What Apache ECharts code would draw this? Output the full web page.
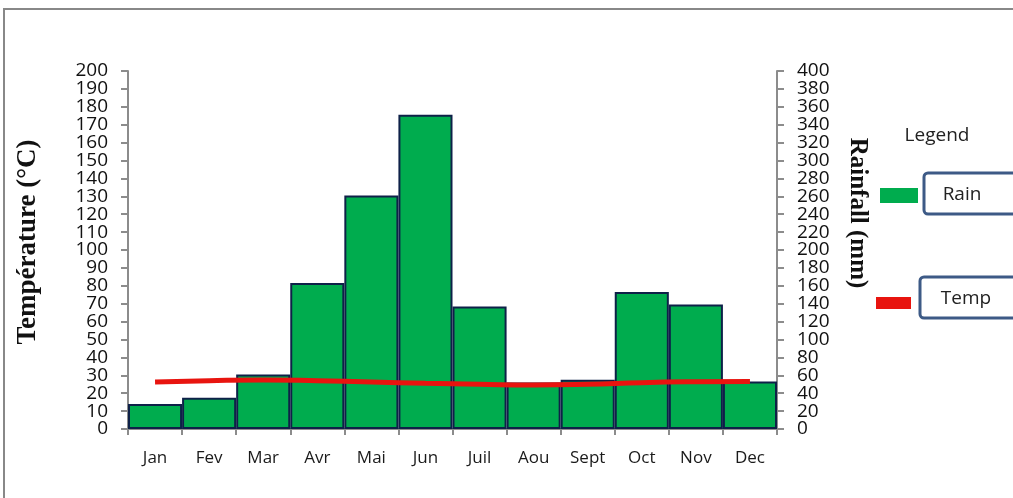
<!DOCTYPE html>
<html>
<head>
<meta charset="utf-8">
<script src="https://cdn.jsdelivr.net/npm/echarts@6/dist/echarts.min.js"></script>
<style>
  html, body { margin: 0; padding: 0; background: #fff; }
  #chart { width: 1013px; height: 498px; }
</style>
</head>
<body>
<div id="chart"></div>
<script>
// months
var months = ['Jan', 'Fev', 'Mar', 'Avr', 'Mai', 'Jun', 'Juil', 'Aou', 'Sept', 'Oct', 'Nov', 'Dec'];
// rainfall (mm), right axis
var rain = [28, 35, 61, 163, 261, 351, 137, 52, 55, 153, 139, 53];
// temperature (°C), left axis
var temp = [26.3, 27, 27.4, 27, 26.3, 25.5, 25, 24.6, 25, 25.9, 26.4, 26.6];

// tick labels, bottom to top
var tempLabels = ['0', '10', '20', '30', '40', '50', '60', '70', '80', '90', '100',
                  '110', '120', '130', '140', '150', '160', '170', '180', '190', '200'];
var rainLabels = ['0', '20', '40', '60', '80', '100', '120', '140', '160', '180', '200',
                  '220', '240', '260', '280', '300', '320', '340', '360', '380', '400'];

var tempTicks = { min: 0, max: 200, interval: 10 };
var rainTicks = { min: 0, max: 400, interval: 20 };

var axisGray = '#8c8c8c';
var labelFont = '"Open Sans", sans-serif';
var titleFont = '"Liberation Serif", serif';

var chart = echarts.init(document.getElementById('chart'));

// the value axes drop 0/200 because the labels touch, so the labels
// come from two category axes laid over them (interval 0 keeps every one)
function labelAxis(side, labels) {
    return {
        type: 'category',
        position: side,
        data: labels,
        boundaryGap: false,
        axisLine: { show: false },
        axisTick: { show: false },
        splitLine: { show: false },
        axisLabel: { interval: 0, margin: 20, color: '#111', fontFamily: labelFont, fontSize: 19 }
    };
}

chart.setOption({
    animation: false,
    grid: { left: 128, right: 236, top: 71, bottom: 69 },
    xAxis: {
        type: 'category',
        data: months,
        boundaryGap: true,
        axisLine: { lineStyle: { color: axisGray, width: 2 } },
        axisTick: { show: true, length: 6, lineStyle: { color: axisGray, width: 2 } },
        axisLabel: { color: '#1a1a1a', fontFamily: labelFont, fontSize: 17, margin: 21, interval: 0 }
    },
    yAxis: [
        {
            type: 'value',
            position: 'left',
            min: tempTicks.min, max: tempTicks.max, interval: tempTicks.interval,
            name: 'Température (°C)',
            nameLocation: 'middle',
            nameRotate: 90,
            nameGap: 86,
            nameTextStyle: { fontFamily: titleFont, fontWeight: 'bold', fontSize: 27, color: '#111', padding: [0, 0, 0, 16] },
            splitLine: { show: false },
            axisLine: { show: true, lineStyle: { color: axisGray, width: 2 } },
            axisTick: { show: true, length: 7, lineStyle: { color: axisGray, width: 2 } },
            axisLabel: { show: false }
        },
        {
            type: 'value',
            position: 'right',
            min: rainTicks.min, max: rainTicks.max, interval: rainTicks.interval,
            splitLine: { show: false },
            axisLine: { show: true, lineStyle: { color: axisGray, width: 2 } },
            axisTick: { show: true, length: 7, lineStyle: { color: axisGray, width: 2 } },
            axisLabel: { show: false }
        },
        labelAxis('left', tempLabels),
        labelAxis('right', rainLabels)
    ],
    series: [
        {
            name: 'Rain',
            type: 'bar',
            yAxisIndex: 1,
            data: rain,
            barCategoryGap: 0,
            itemStyle: { color: '#00ac4e', borderColor: '#0e2148', borderWidth: 2 }
        },
        {
            name: 'Temp',
            type: 'line',
            yAxisIndex: 0,
            data: temp,
            smooth: true,
            showSymbol: false,
            z: 5,
            lineStyle: { color: '#e8140f', width: 5 }
        }
    ],
    graphic: [
        // outer frame
        { type: 'rect', shape: { x: 4, y: 9, width: 1030, height: 510 },
          style: { fill: null, stroke: '#888', lineWidth: 2 } },
        // right axis title
        { type: 'text', x: 857, y: 213, rotation: -Math.PI / 2,
          style: { text: 'Rainfall (mm)', font: 'bold 25px "Liberation Serif", serif', fill: '#111',
                   align: 'center', verticalAlign: 'middle' } },
        // legend
        { type: 'text', x: 937, y: 136,
          style: { text: 'Legend', font: '19px "Open Sans", sans-serif', fill: '#222',
                   align: 'center', verticalAlign: 'middle' } },
        { type: 'rect', shape: { x: 880, y: 188, width: 38, height: 15 }, style: { fill: '#00ac4e' } },
        { type: 'rect', shape: { x: 924, y: 173, width: 100, height: 41, r: 4 },
          style: { fill: '#fff', stroke: '#3d5a86', lineWidth: 3 } },
        { type: 'text', x: 962, y: 195,
          style: { text: 'Rain', font: '19px "Open Sans", sans-serif', fill: '#222',
                   align: 'center', verticalAlign: 'middle' } },
        { type: 'rect', shape: { x: 876, y: 297, width: 35, height: 12 }, style: { fill: '#e8140f' } },
        { type: 'rect', shape: { x: 920, y: 277, width: 104, height: 41, r: 4 },
          style: { fill: '#fff', stroke: '#3d5a86', lineWidth: 3 } },
        { type: 'text', x: 966, y: 299,
          style: { text: 'Temp', font: '19px "Open Sans", sans-serif', fill: '#222',
                   align: 'center', verticalAlign: 'middle' } }
    ]
});
</script>
</body>
</html>
